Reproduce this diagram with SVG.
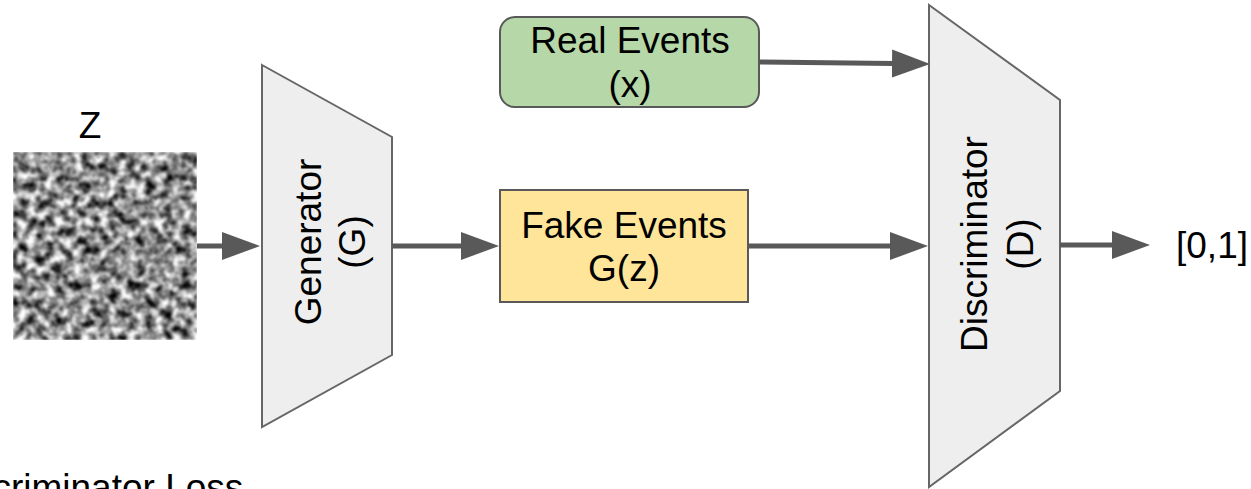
<svg xmlns="http://www.w3.org/2000/svg" width="1251" height="489" viewBox="0 0 1251 489">
  <style>
    text { font-family: "Liberation Sans", Arial, sans-serif; font-size: 37px; fill: #000; }
    .mid { text-anchor: middle; }
    .block { fill: #eeeeee; stroke: #666666; stroke-width: 2; }
    .real { fill: #b6d7a8; stroke: #595959; stroke-width: 2; }
    .fake { fill: #ffe599; stroke: #595959; stroke-width: 2; }
    .edge { stroke: #595959; stroke-width: 5; fill: none; marker-end: url(#head); }
  </style>
  <defs>
    <marker id="head" markerUnits="userSpaceOnUse" markerWidth="40" markerHeight="30" refX="1" refY="14" orient="auto">
      <path d="M0,0 L38,14 L0,28 Z" fill="#595959"/>
    </marker>
    <!-- grayscale noise sample for the latent input z -->
    <filter id="noise" x="0" y="0" width="1" height="1" filterUnits="objectBoundingBox" color-interpolation-filters="sRGB">
      <feTurbulence type="fractalNoise" baseFrequency="0.11" numOctaves="3" seed="7" result="t"/>
      <feColorMatrix in="t" type="matrix" values="2.0 0 0 0 -0.45  2.0 0 0 0 -0.45  2.0 0 0 0 -0.45  0 0 0 0 1" result="g"/>
      <feGaussianBlur in="g" stdDeviation="0.8"/>
    </filter>
  </defs>

  <g id="latent-z">
    <text class="mid" x="90" y="138">Z</text>
    <rect x="13" y="152" width="184" height="188" fill="#888" filter="url(#noise)"/>
  </g>

  <g id="generator">
    <polygon class="block" points="262,65 392,137 392,355 262,427"/>
    <g transform="translate(321,242) rotate(-90)">
      <text class="mid" x="0" y="0">Generator</text>
      <text class="mid" x="0" y="44">(G)</text>
    </g>
  </g>

  <g id="real-events">
    <rect class="real" x="500" y="17" width="259" height="90" rx="15" ry="15"/>
    <text class="mid" x="630" y="53">Real Events</text>
    <text class="mid" x="630" y="97">(x)</text>
  </g>

  <g id="fake-events">
    <rect class="fake" x="500" y="190" width="248" height="112"/>
    <text class="mid" x="624" y="238">Fake Events</text>
    <text class="mid" x="624" y="281">G(z)</text>
  </g>

  <g id="discriminator">
    <polygon class="block" points="929,5 1060,100 1060,391 929,487"/>
    <g transform="translate(987,244) rotate(-90)">
      <text class="mid" x="0" y="0">Discriminator</text>
      <text class="mid" x="0" y="46">(D)</text>
    </g>
  </g>

  <g id="output">
    <text x="1176" y="258">[0,1]</text>
  </g>

  <g id="loss-label">
    <text x="-61" y="500">Discriminator Loss</text>
  </g>

  <g id="connectors">
    <line class="edge" x1="197" y1="246" x2="223" y2="246"/>
    <line class="edge" x1="392" y1="246" x2="462" y2="246"/>
    <line class="edge" x1="759" y1="62" x2="893" y2="63.5"/>
    <line class="edge" x1="748" y1="246" x2="891" y2="246"/>
    <line class="edge" x1="1060" y1="245" x2="1113" y2="245"/>
  </g>
</svg>
